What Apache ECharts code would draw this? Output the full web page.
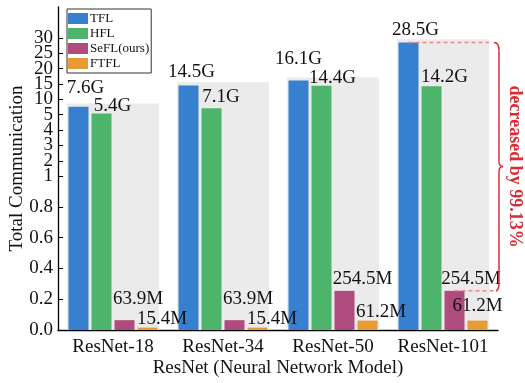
<!DOCTYPE html>
<html>
<head>
<meta charset="utf-8">
<script src="https://cdn.jsdelivr.net/npm/echarts@6/dist/echarts.min.js"></script>
<style>
  html, body { margin: 0; padding: 0; background: #fff; }
  #chart { width: 525px; height: 383px; }
</style>
</head>
<body>
<div id="chart"></div>
<script>
// Communication cost per model (in G; M values given as fractions of G)
const categories = ['ResNet-18', 'ResNet-34', 'ResNet-50', 'ResNet-101'];
const seriesNames = ['TFL', 'HFL', 'SeFL(ours)', 'FTFL'];
const tflValues = [7.6, 14.5, 16.1, 28.5];
const hflValues = [5.4, 7.1, 14.4, 14.2];
const seflValues = [0.0639, 0.0639, 0.2545, 0.2545];
const ftflValues = [0.0154, 0.0154, 0.0612, 0.0612];
const tickValues = [0, 0.2, 0.4, 0.6, 0.8, 1, 2, 3, 4, 5, 10, 15, 20, 25, 30];
const tickLabels = ['0.0', '0.2', '0.4', '0.6', '0.8', '1', '2', '3', '4', '5', '10', '15', '20', '25', '30'];
const reductionText = 'decreased by 99.13%';

// Broken axis: 0..1 linear (wide), 1..5 step 1, 5..30 step 5
function toU(v) {
  if (v <= 1) return v * 10;
  if (v <= 5) return 10 + (v - 1);
  return 14 + (v - 5) / 5;
}
function fmtValue(v) {
  return v >= 1 ? v.toFixed(1) + 'G' : (v * 1000).toFixed(1) + 'M';
}

const colors = ['#3780cf', '#4db56b', '#b04b7d', '#e89b35'];
const FONT = 'Liberation Serif';
const BAR_W = 20, BAR_GAP = 3;
const U_MAX = 21;

// label offsets [dx, dy] per series per category
const labelOffsets = [
  [[7, -9], [3, -4], [0, -12], [7, -3]],
  [[11, 2], [9.5, -2], [11, 2], [13, 0]],
  [[13.5, -12], [13.5, -12], [18, -2], [16.5, -2]],
  [[14.5, 1], [14.5, 1], [13.5, 1], [0, -5]]
];

const allValues = [tflValues, hflValues, seflValues, ftflValues];
const tickU = tickValues.map(toU);
// an empty label at the axis end keeps the min/max overlap check away from "30"
const labelU = tickU.concat([U_MAX]);

const mainSeries = allValues.map((vals, si) => ({
  name: seriesNames[si],
  type: 'bar',
  xAxisIndex: 0,
  barWidth: BAR_W,
  barGap: (BAR_GAP / BAR_W * 100) + '%',
  itemStyle: { color: colors[si] },
  data: vals.map((v, ci) => ({
    value: toU(v),
    label: {
      show: true,
      position: 'top',
      distance: 0,
      offset: labelOffsets[si][ci],
      formatter: fmtValue(v),
      fontFamily: FONT,
      fontSize: 19,
      color: '#111'
    }
  }))
}));

const backdrop = {
  name: 'backdrop',
  type: 'bar',
  xAxisIndex: 1,
  barWidth: 92,
  silent: true,
  itemStyle: { color: '#ebebeb' },
  data: tflValues.map(v => toU(v) + 0.2)
};

const chart = echarts.init(document.getElementById('chart'), null, { renderer: 'canvas' });

chart.setOption({
  animation: false,
  color: colors,
  grid: { left: 58, right: 27, top: 7, bottom: 53, containLabel: false, outerBoundsMode: 'none' },
  legend: {
    data: seriesNames,
    orient: 'vertical',
    left: 67,
    top: 9,
    padding: [3, 2, 3, 1],
    itemWidth: 20,
    itemHeight: 11,
    itemGap: 2,
    icon: 'rect',
    borderColor: '#333',
    borderWidth: 1,
    backgroundColor: '#fff',
    textStyle: { fontFamily: FONT, fontSize: 13, color: '#111', padding: [0, 0, 0, -3] }
  },
  xAxis: [
    {
      type: 'category',
      data: categories,
      axisTick: { show: false },
      axisLine: { lineStyle: { color: '#000', width: 1.3 } },
      axisLabel: { interval: 0, fontFamily: FONT, fontSize: 19, color: '#111', margin: 8 },
      name: 'ResNet (Neural Network Model)',
      nameLocation: 'middle',
      nameGap: 29,
      nameMoveOverlap: false,
      nameTextStyle: { fontFamily: FONT, fontSize: 19, color: '#111' }
    },
    { type: 'category', data: categories, show: false }
  ],
  yAxis: {
    type: 'value',
    min: 0,
    max: U_MAX,
    interval: 1,
    splitLine: { show: false },
    axisLine: { show: true, lineStyle: { color: '#000', width: 1.3 } },
    axisTick: { show: true, inside: true, length: 5, customValues: tickU, lineStyle: { color: '#000' } },
    axisLabel: {
      customValues: labelU,
      showMinLabel: true,
      hideOverlap: false,
      fontFamily: FONT,
      fontSize: 19,
      lineHeight: 10,
      padding: [4, 0, 0, 0],
      color: '#111',
      margin: 5,
      formatter: function (u) {
        const idx = tickU.findIndex(t => Math.abs(t - u) < 1e-6);
        return idx >= 0 ? tickLabels[idx] : '';
      }
    },
    name: 'Total Communication',
    nameLocation: 'middle',
    nameGap: 31,
    nameMoveOverlap: false,
    nameTextStyle: { fontFamily: FONT, fontSize: 19, color: '#111' }
  },
  series: [backdrop].concat(mainSeries)
});

// Reduction annotation on the last model group
function drawAnnotation() {
  const last = categories.length - 1;
  const top = chart.convertToPixel({ xAxisIndex: 0, yAxisIndex: 0 }, [last, toU(tflValues[last])]);
  const bot = chart.convertToPixel({ xAxisIndex: 0, yAxisIndex: 0 }, [last, toU(seflValues[last])]);
  const cx = top[0];
  const yT = top[1], yB = bot[1];
  const ym = (yT + yB) / 2;
  const tflCenter = cx - 1.5 * (BAR_W + BAR_GAP);
  const seflCenter = cx + 0.5 * (BAR_W + BAR_GAP);
  const x0 = cx + 51, xs = cx + 56, xt = cx + 60;
  const red = '#d42e36';
  const dash = { stroke: '#e8878b', lineWidth: 1.5, lineDash: [4, 3] };
  const brace = { stroke: red, lineWidth: 1.5, fill: null };
  chart.setOption({
    graphic: [
      { type: 'line', shape: { x1: tflCenter, y1: yT, x2: cx + 46, y2: yT }, style: dash, z: 100 },
      { type: 'line', shape: { x1: seflCenter, y1: yB, x2: cx + 54, y2: yB }, style: dash, z: 100 },
      { type: 'bezierCurve', z: 100, shape: { x1: x0, y1: yT, cpx1: xs, cpy1: yT, x2: xs, y2: yT + 8 }, style: brace },
      { type: 'line', z: 100, shape: { x1: xs, y1: yT + 8, x2: xs, y2: ym - 5 }, style: brace },
      { type: 'bezierCurve', z: 100, shape: { x1: xs, y1: ym - 5, cpx1: xs, cpy1: ym, x2: xt, y2: ym }, style: brace },
      { type: 'bezierCurve', z: 100, shape: { x1: xt, y1: ym, cpx1: xs, cpy1: ym, x2: xs, y2: ym + 5 }, style: brace },
      { type: 'line', z: 100, shape: { x1: xs, y1: ym + 5, x2: xs, y2: yB - 8 }, style: brace },
      { type: 'bezierCurve', z: 100, shape: { x1: xs, y1: yB - 8, cpx1: xs, cpy1: yB, x2: x0 + 2, y2: yB }, style: brace },
      {
        type: 'text', z: 100,
        x: cx + 72, y: ym,
        rotation: -Math.PI / 2,
        style: {
          text: reductionText,
          fontFamily: FONT,
          fontSize: 18,
          fontWeight: 'bold',
          fill: red,
          align: 'center',
          verticalAlign: 'middle'
        }
      }
    ]
  });
}
drawAnnotation();
</script>
</body>
</html>
